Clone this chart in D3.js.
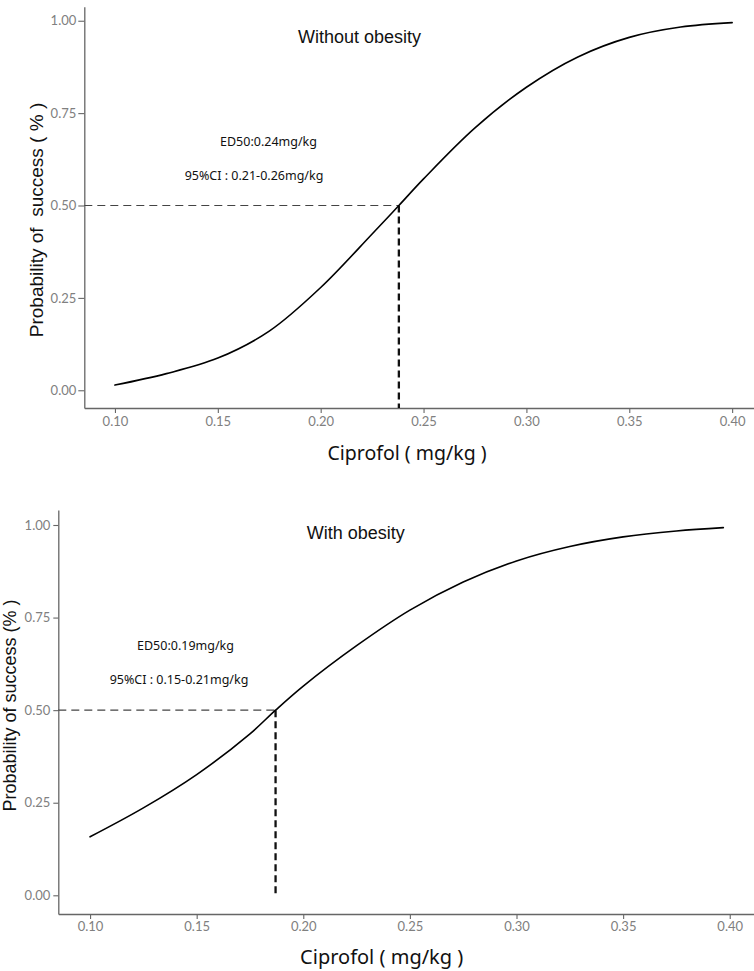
<!DOCTYPE html>
<html>
<head>
<meta charset="utf-8">
<script src="https://cdn.jsdelivr.net/npm/d3@7/dist/d3.min.js"></script>
<style>
  html, body { margin: 0; padding: 0; background: #fff; }
  svg { display: block; }
  text { white-space: pre; }
</style>
</head>
<body>
<svg id="chart" width="754" height="971"></svg>
<script>
// ---------- data ----------
const xTicks = [0.10, 0.15, 0.20, 0.25, 0.30, 0.35, 0.40];
const yTicks = [0.00, 0.25, 0.50, 0.75, 1.00];

// Panel 1: Without obesity
const doseTop = [0.10, 0.125, 0.15, 0.175, 0.20, 0.225, 0.238, 0.25, 0.275, 0.30, 0.325, 0.35, 0.375, 0.40];
const probTop = [0.014, 0.045, 0.087, 0.160, 0.278, 0.423, 0.50, 0.572, 0.71, 0.82, 0.902, 0.955, 0.983, 0.995];
const ed50Top = 0.238;

// Panel 2: With obesity
const doseBot = [0.10, 0.125, 0.15, 0.175, 0.187, 0.20, 0.225, 0.25, 0.275, 0.30, 0.325, 0.35, 0.375, 0.397];
const probBot = [0.158, 0.236, 0.326, 0.436, 0.50, 0.565, 0.674, 0.770, 0.846, 0.903, 0.942, 0.968, 0.984, 0.993];
const ed50Bot = 0.187;

const titles = ["Without obesity", "With obesity"];
const ed50Labels = ["ED50:0.24mg/kg", "ED50:0.19mg/kg"];
const ciLabels = ["95%CI : 0.21-0.26mg/kg", "95%CI : 0.15-0.21mg/kg"];
const yTitles = ["Probability of  success ( % )", "Probability of success (% )"];
const xTitles = ["Ciprofol ( mg/kg )", "Ciprofol ( mg/kg )"];

// ---------- layout ----------
const panels = [
  {
    dose: doseTop, prob: probTop, ed50: ed50Top, i: 0,
    xDomain: [0.0851, 0.415], xRange: [84.3, 763],
    yDomain: [-0.048, 1.038], yRange: [408, 6.7],
    vDashBottom: -0.048,
    yTick: 6, yPad: 2, xTick: 5, xPad: 4,
    titleX: 298, titleY: 42.5,
    ed50X: 268.5, ed50Y: 142, ciX: 254, ciY: 176,
    xtX: 407, xtY: 453.5, xtSize: 19.5,
    ytX: 36, ytY: 220, ytSize: 19
  },
  {
    dose: doseBot, prob: probBot, ed50: ed50Bot, i: 1,
    xDomain: [0.0851, 0.415], xRange: [58.3, 761.7],
    yDomain: [-0.0505, 1.0405], yRange: [914, 510],
    vDashBottom: 0,
    yTick: 5, yPad: 3, xTick: 5, xPad: 3,
    titleX: 306.7, titleY: 539.3,
    ed50X: 185.5, ed50Y: 645.3, ciX: 179, ciY: 680,
    xtX: 381.7, xtY: 957, xtSize: 20,
    ytX: 10, ytY: 705.5, ytSize: 18
  }
];

const svg = d3.select("#chart");
svg.append("rect").attr("width", 754).attr("height", 971).attr("fill", "#fff");

const axisColor = "#666";
const tickTextColor = "#808080";

panels.forEach(p => {
  const x = d3.scaleLinear().domain(p.xDomain).range(p.xRange);
  const y = d3.scaleLinear().domain(p.yDomain).range(p.yRange);
  const g = svg.append("g");

  // y axis
  const yAxis = g.append("g")
    .attr("transform", `translate(${p.xRange[0]},0)`)
    .call(d3.axisLeft(y).tickValues(yTicks).tickFormat(d3.format(".2f"))
      .tickSize(p.yTick).tickPadding(p.yPad).tickSizeOuter(0));
  // x axis
  const xAxis = g.append("g")
    .attr("transform", `translate(0,${p.yRange[0]})`)
    .call(d3.axisBottom(x).tickValues(xTicks).tickFormat(d3.format(".2f"))
      .tickSize(p.xTick).tickPadding(p.xPad).tickSizeOuter(0));

  [yAxis, xAxis].forEach(a => {
    a.attr("font-size", null).attr("font-family", null);
    a.select(".domain").attr("stroke", axisColor).attr("stroke-width", 1.3);
    a.selectAll(".tick line").attr("stroke", axisColor).attr("stroke-width", 1.1);
    a.selectAll(".tick text")
      .attr("fill", tickTextColor)
      .style("font-family", "Lato, 'DejaVu Sans', sans-serif")
      .style("font-size", "13px");
  });

  // dashed reference lines
  g.append("line")
    .attr("x1", x(p.xDomain[0])).attr("x2", x(p.ed50))
    .attr("y1", y(0.5)).attr("y2", y(0.5))
    .attr("stroke", "#444").attr("stroke-width", 1.2)
    .attr("stroke-dasharray", "8,5");
  g.append("line")
    .attr("x1", x(p.ed50)).attr("x2", x(p.ed50))
    .attr("y1", y(0.5)).attr("y2", y(p.vDashBottom))
    .attr("stroke", "#111").attr("stroke-width", 2.3)
    .attr("stroke-dasharray", "7,4");

  // curve
  const pts = p.dose.map((d, k) => [d, p.prob[k]]);
  g.append("path")
    .datum(pts)
    .attr("fill", "none")
    .attr("stroke", "#000")
    .attr("stroke-width", 1.6)
    .attr("stroke-linecap", "round")
    .attr("d", d3.line().x(d => x(d[0])).y(d => y(d[1])).curve(d3.curveCatmullRom.alpha(0.5)));

  // titles and annotations
  g.append("text")
    .attr("x", p.titleX).attr("y", p.titleY)
    .style("font-family", "'Liberation Sans', Arial, sans-serif")
    .style("font-size", "18px").attr("fill", "#111")
    .text(titles[p.i]);

  g.append("text")
    .attr("x", p.ed50X).attr("y", p.ed50Y).attr("dy", "0.35em")
    .attr("text-anchor", "middle")
    .style("font-family", "'Noto Sans', 'DejaVu Sans', sans-serif")
    .style("font-size", "12.5px").attr("fill", "#111")
    .text(ed50Labels[p.i]);

  g.append("text")
    .attr("x", p.ciX).attr("y", p.ciY).attr("dy", "0.35em")
    .attr("text-anchor", "middle")
    .style("font-family", "'Noto Sans', 'DejaVu Sans', sans-serif")
    .style("font-size", "12.5px").attr("fill", "#111")
    .text(ciLabels[p.i]);

  g.append("text")
    .attr("x", p.xtX).attr("y", p.xtY).attr("dy", "0.35em")
    .attr("text-anchor", "middle")
    .style("font-family", "'Noto Sans', 'DejaVu Sans', sans-serif")
    .style("font-size", p.xtSize + "px").attr("fill", "#111")
    .text(xTitles[p.i]);

  g.append("text")
    .attr("transform", `translate(${p.ytX},${p.ytY}) rotate(-90)`)
    .attr("dy", "0.35em")
    .attr("text-anchor", "middle")
    .style("font-family", "'Liberation Sans', Arial, sans-serif")
    .style("font-size", p.ytSize + "px").attr("fill", "#111")
    .text(yTitles[p.i]);
});
</script>
</body>
</html>
